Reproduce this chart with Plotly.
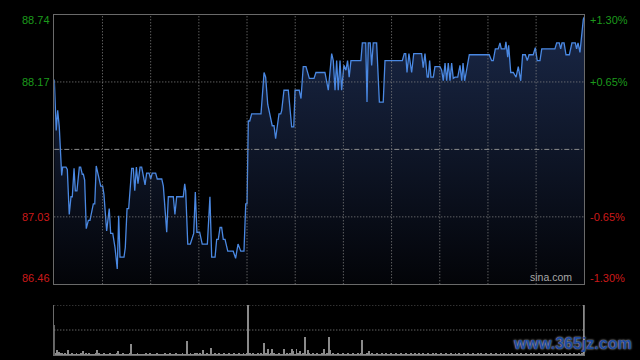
import plotly.graph_objects as go
import numpy as np

# ---------------- data ----------------
prev_close = 87.60
y_lo, y_hi = 86.46, 88.74
left_vals = [88.74, 88.17, 87.03, 86.46]
left_text = ["88.74", "88.17", "87.03", "86.46"]
right_text = ["+1.30%", "+0.65%", "-0.65%", "-1.30%"]
grid_prices = [88.17, 87.03]
grid_minutes = [30, 60, 90, 120, 150, 180, 210, 240, 270, 300]
vol_grid = [50, 100]

# price line vertices (minute, price)
t = [0, 1.2, 2.1, 3.1, 4.6, 5.2, 7.3, 8.1, 9.3, 10.4,
     11.2, 12.3, 13.1, 14.1, 15.6, 16.4, 17.4, 18.1, 18.9, 19.9,
     21.2, 22.2, 24.3, 25.2, 26.1, 27.6, 28.9, 30.1, 30.9, 32.6,
     34.2, 35.1, 36.4, 37.8, 39.2, 40.1, 40.9, 43.4, 44.2, 45.3,
     46.3, 48.2, 49.2, 50.1, 51.1, 52.1, 53.4, 54.4, 55.4, 56.5,
     57.5, 59.0, 60.0, 61.0, 63.1, 64.1, 66.9, 67.9, 70.0, 71.0,
     74.1, 75.1, 76.2, 80.3, 81.2, 81.8, 83.1, 84.7, 86.8, 87.8,
     88.8, 90.5, 92.1, 95.3, 96.9, 98.0, 100.1, 101.1, 102.1, 103.2,
     104.2, 105.2, 106.3, 108.0, 111.4, 112.9, 114.4, 116.1, 118.1, 119.2,
     120.0, 120.8, 121.7, 122.9, 128.7, 130.6, 131.6, 132.9, 135.7, 136.8,
     137.8, 139.9, 141.0, 141.6, 143.0, 145.7, 147.8, 149.1, 149.9, 152.5,
     153.6, 155.0, 156.7, 158.8, 161.7, 162.9, 168.5, 170.6, 172.7, 173.7,
     174.8, 175.8, 176.8, 177.9, 178.9, 180.3, 181.6, 182.6, 183.6, 184.7,
     190.9, 191.8, 193.9, 194.7, 195.5, 196.7, 197.6, 198.6, 200.7, 202.4,
     204.8, 205.9, 216.7, 217.9, 218.8, 219.6, 220.8, 222.5, 223.8, 228.7,
     229.7, 230.8, 232.2, 232.9, 233.7, 234.5, 236.0, 237.0, 240.1, 241.2,
     242.2, 243.3, 244.3, 245.3, 246.4, 247.4, 248.4, 249.5, 251.2, 252.6,
     253.7, 254.5, 255.5, 258.4, 270.8, 272.3, 273.3, 274.6, 276.4, 277.5,
     278.3, 280.6, 281.2, 282.3, 282.9, 284.2, 285.8, 287.5, 288.9, 290.4,
     291.6, 293.3, 294.5, 295.6, 298.2, 299.5, 300.7, 302.4, 303.5, 311.7,
     312.8, 314.4, 315.3, 316.1, 317.4, 318.6, 320.7, 322.3, 324.4, 325.2,
     326.1, 327.3, 329.4, 330]

p = [88.19, 87.76, 87.93, 87.79, 87.38, 87.45, 87.45, 87.43, 87.05, 87.20,
     87.20, 87.44, 87.25, 87.25, 87.45, 87.45, 87.39, 87.39, 87.34, 86.93,
     87.00, 87.00, 87.14, 87.14, 87.46, 87.36, 87.29, 87.29, 87.22, 86.91,
     87.10, 86.89, 86.89, 86.77, 86.59, 87.04, 86.69, 86.69, 86.77, 87.10,
     87.10, 87.44, 87.44, 87.25, 87.45, 87.31, 87.45, 87.45, 87.39, 87.30,
     87.40, 87.40, 87.35, 87.40, 87.40, 87.35, 87.35, 87.29, 86.90, 87.20,
     87.20, 87.05, 87.20, 87.20, 87.31, 87.25, 86.80, 86.80, 86.89, 87.24,
     86.90, 86.90, 86.80, 86.80, 87.20, 86.69, 86.69, 86.84, 86.84, 86.94,
     86.94, 86.84, 86.84, 86.74, 86.74, 86.68, 86.80, 86.74, 86.74, 87.14,
     87.14, 87.84, 87.84, 87.90, 87.90, 88.25, 88.21, 87.98, 87.80, 87.80,
     87.69, 87.90, 87.90, 87.93, 88.10, 88.10, 87.79, 87.79, 88.10, 88.10,
     88.03, 88.30, 88.30, 88.20, 88.20, 88.25, 88.25, 88.10, 88.41, 88.35,
     88.10, 88.35, 88.10, 88.35, 88.10, 88.31, 88.27, 88.35, 88.21, 88.35,
     88.35, 88.50, 88.50, 88.00, 88.50, 88.50, 88.31, 88.50, 88.50, 88.00,
     88.00, 88.35, 88.35, 88.41, 88.41, 88.25, 88.41, 88.25, 88.41, 88.41,
     88.29, 88.41, 88.21, 88.21, 88.35, 88.21, 88.21, 88.30, 88.30, 88.27,
     88.18, 88.33, 88.18, 88.33, 88.18, 88.33, 88.20, 88.21, 88.21, 88.31,
     88.18, 88.33, 88.18, 88.40, 88.40, 88.35, 88.35, 88.45, 88.45, 88.50,
     88.45, 88.45, 88.51, 88.38, 88.48, 88.25, 88.25, 88.21, 88.30, 88.18,
     88.40, 88.40, 88.35, 88.40, 88.40, 88.46, 88.35, 88.35, 88.45, 88.45,
     88.50, 88.50, 88.45, 88.50, 88.50, 88.40, 88.40, 88.50, 88.50, 88.45,
     88.50, 88.42, 88.70, 88.72]

# per-minute volume (relative units, 100 = panel top)
vol = [60, 3, 10, 7, 3, 4, 2, 3, 2, 10,
       2, 3, 2, 2, 3, 2, 2, 3, 8, 2,
       4, 2, 3, 2, 2, 2, 3, 10, 4, 2,
       2, 3, 2, 2, 2, 3, 2, 2, 2, 3,
       8, 2, 2, 3, 2, 2, 2, 3, 22, 2,
       2, 2, 3, 2, 2, 2, 2, 3, 2, 2,
       3, 2, 2, 2, 3, 2, 2, 2, 2, 3,
       2, 2, 3, 2, 2, 2, 3, 2, 2, 2,
       4, 2, 2, 28, 2, 3, 2, 2, 3, 4,
       2, 3, 2, 10, 2, 3, 2, 2, 14, 2,
       3, 2, 2, 3, 2, 2, 3, 2, 2, 3,
       2, 2, 3, 2, 2, 3, 2, 2, 3, 2,
       3, 100, 3, 2, 3, 2, 2, 3, 2, 3,
       2, 25, 3, 12, 2, 4, 12, 3, 2, 2,
       3, 2, 2, 12, 2, 3, 2, 3, 13, 8,
       2, 12, 3, 8, 2, 3, 37, 2, 10, 3,
       2, 3, 2, 2, 3, 2, 2, 3, 13, 2,
       3, 37, 10, 2, 3, 2, 2, 3, 2, 2,
       3, 2, 2, 3, 2, 2, 3, 2, 2, 3,
       2, 3, 30, 2, 2, 3, 8, 2, 3, 2,
       2, 3, 2, 2, 3, 2, 2, 3, 2, 2,
       3, 2, 2, 3, 2, 2, 3, 2, 2, 3,
       2, 2, 3, 2, 2, 3, 2, 3, 2, 2,
       3, 2, 2, 3, 2, 2, 3, 2, 3, 2,
       2, 3, 2, 2, 3, 2, 2, 3, 2, 2,
       3, 2, 3, 2, 2, 3, 2, 2, 3, 2,
       2, 3, 2, 2, 3, 2, 3, 2, 2, 3,
       2, 2, 3, 2, 2, 3, 2, 2, 3, 2,
       3, 2, 2, 3, 2, 3, 2, 2, 3, 2,
       2, 3, 2, 2, 3, 2, 2, 3, 2, 3,
       2, 2, 3, 2, 2, 3, 2, 2, 3, 2,
       3, 2, 2, 3, 2, 2, 3, 2, 3, 2,
       2, 3, 2, 2, 3, 2, 2, 3, 2, 3,
       100]
vol_minutes = np.arange(len(vol))

# ---------------- figure ----------------
GREEN = "#1c9a1c"
RED = "#cc1a1a"
FONT = "Liberation Sans, Arial, sans-serif"
XDOM = [54.3 / 640, 584.3 / 640]
GRID = dict(color="#858585", width=1, dash="1px,2px")

fig = go.Figure()

fig.add_trace(go.Scatter(
    x=t, y=p, mode="lines",
    line=dict(color="#4a88e2", width=1.3),
    fill="tozeroy",
    fillgradient=dict(type="vertical",
                      colorscale=[[0, "rgb(3,4,8)"], [1, "rgb(26,40,72)"]],
                      start=y_lo, stop=y_hi),
    xaxis="x", yaxis="y", hoverinfo="skip",
))

fig.add_trace(go.Bar(
    x=vol_minutes, y=vol, width=0.6,
    marker=dict(color="#8a8a8a", line=dict(width=0)),
    xaxis="x2", yaxis="y2", hoverinfo="skip",
))

axis_common = dict(showticklabels=False, ticks="", zeroline=False, showgrid=False)

fig.update_layout(
    width=640, height=360,
    margin=dict(l=0, r=0, t=0, b=0),
    paper_bgcolor="black", plot_bgcolor="black",
    showlegend=False, bargap=0,
    font=dict(family=FONT),
    xaxis=dict(domain=XDOM, range=[0, 330],
               showline=True, mirror=True, linecolor="#6a6a6a", linewidth=1,
               anchor="y", **axis_common),
    yaxis=dict(domain=[(360 - 284.3) / 360, (360 - 14.5) / 360],
               range=[y_lo, y_hi],
               showline=True, mirror=True, linecolor="#6a6a6a", linewidth=1,
               anchor="x", **axis_common),
    xaxis2=dict(domain=XDOM, range=[0, 330],
                showline=True, linecolor="#6a6a6a", linewidth=1,
                anchor="y2", **axis_common),
    yaxis2=dict(domain=[5 / 360, 55 / 360], range=[0, 100],
                showline=True, mirror=True, linecolor="#6a6a6a", linewidth=1,
                anchor="x2", **axis_common),
)

# grid lines drawn above the area fill
for m in grid_minutes:
    fig.add_shape(type="line", xref="x", yref="y domain", x0=m, x1=m, y0=0, y1=1,
                  line=GRID, layer="above")
for v in grid_prices:
    fig.add_shape(type="line", xref="x domain", yref="y", x0=0, x1=1, y0=v, y1=v,
                  line=GRID, layer="above")
for v in vol_grid:
    fig.add_shape(type="line", xref="x2 domain", yref="y2", x0=0, x1=1, y0=v, y1=v,
                  line=dict(color="#8e8e8e", width=1, dash="1px,2px"), layer="above")

# previous close dash-dot line
fig.add_shape(type="line", xref="x domain", yref="y", x0=0, x1=1,
              y0=prev_close, y1=prev_close,
              line=dict(color="#8c8c8c", width=1, dash="5px,2px,1px,2px"), layer="above")

# axis labels
shifts = [-6, 0, 0, 6]
for v, lt, rt, ys in zip(left_vals, left_text, right_text, shifts):
    col = GREEN if v > prev_close else RED
    fig.add_annotation(x=0, xref="x domain", y=v, yref="y", text=lt,
                       showarrow=False, xanchor="right", yanchor="middle",
                       xshift=-2, yshift=ys, font=dict(size=11, color=col, family=FONT))
    fig.add_annotation(x=1, xref="x domain", y=v, yref="y", text=rt,
                       showarrow=False, xanchor="left", yanchor="middle",
                       xshift=4, yshift=ys, font=dict(size=11, color=col, family=FONT))

fig.add_annotation(x=1, xref="x domain", y=0, yref="y domain", text="sina.com",
                   showarrow=False, xanchor="right", yanchor="bottom",
                   xshift=-10, yshift=-1, font=dict(size=10.5, color="#a8a8a8", family=FONT))

fig.add_annotation(x=1, xref="paper", y=0, yref="paper", text="<b>www.365jz.com</b>",
                   showarrow=False, xanchor="right", yanchor="bottom",
                   xshift=-6, yshift=6,
                   font=dict(size=16, color="#1d4a9e", family=FONT,
                             shadow="0px 0px 2px #e0e0e0"))

fig.write_html("out.html")
